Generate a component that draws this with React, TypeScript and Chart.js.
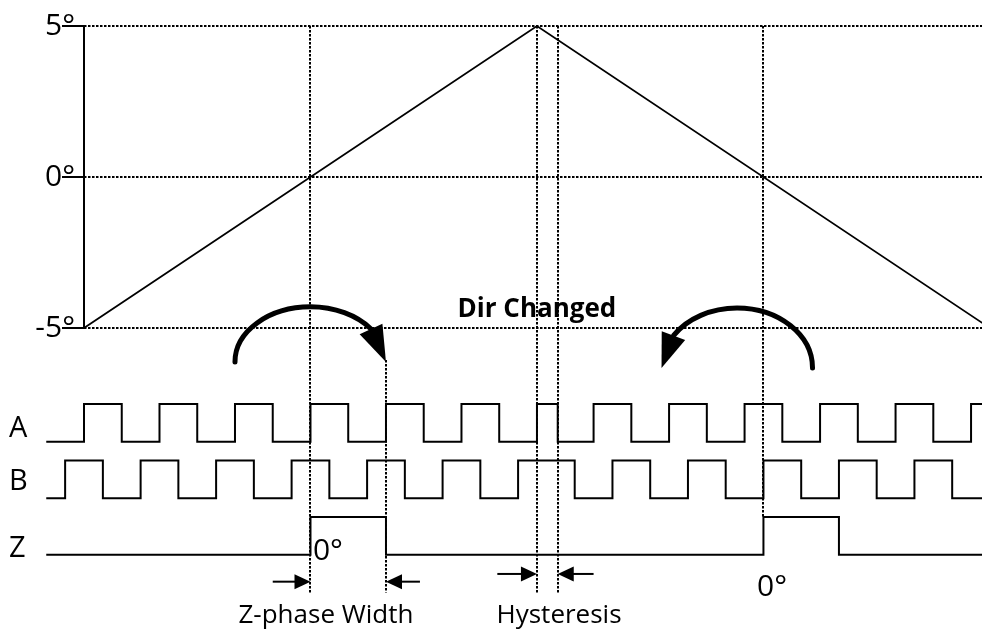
import React, { useEffect, useRef } from "react";
import { Chart, registerables } from "chart.js";

Chart.register(...registerables);

// ---------- data ----------
const angleTicks = [-5, 0, 5];
const angleTickLabels = ["-5°", "0°", "5°"];

// shaft angle (degrees) vs. time (in quarter-periods of the encoder signal)
const angleTime = [0, 24, 48];
const angleValue = [-5, 5, -5];

// encoder signal edges (time of each toggle, first toggle is a rising edge)
const signalNames = ["A", "B", "Z"];
const aEdges = [0, 2, 4, 6, 8, 10, 12, 14, 16, 18, 20, 22, 24, 25.1, 27, 29, 31, 33, 35, 37, 39, 41, 43, 45, 47];
const bEdges = [-1, 1, 3, 5, 7, 9, 11, 13, 15, 17, 19, 21, 23, 26, 28, 30, 32, 34, 36, 38, 40, 42, 44, 46];
const zEdges = [12, 16, 36, 40];
const traceStart = -2;
const traceEnd = 48;
// signal rows (row units, downward): high level / low level
const highRows = [0, 3, 6];
const lowRows = [2, 5, 8];

// dotted marker lines (times)
const markerTimes = [12, 16, 24, 25.1, 36];

// ---------- layout of annotations (not data) ----------
const X_MAX = 47.58;
const Y_MIN = -15.066;
const Y_MAX = 5.861;
const ROW_MIN = -21.43;
const ROW_MAX = 12.1;
const FONT = "'Open Sans', 'Noto Sans', sans-serif";
const DASH = [2.5, 1.5];

const markerSpecs = [
  { topDeg: 5, bottomRow: 10 },
  { topRow: -2.33, bottomRow: 10 },
  { topDeg: 5, bottomRow: 10 },
  { topDeg: 5, bottomRow: 10 },
  { topDeg: 5, bottomRow: 6 },
];

const arcSpecs = [
  { cx: 12, cy: -2.23, rx: 4, ry: 2.92, a: 0.64, cw: true },
  { cx: 34.6, cy: -1.91, rx: 4, ry: 3.18, a: 0.57, cw: false },
];

const dimArrows = [
  { tail: 10, tip: 12, row: 9.43 },
  { tail: 17.8, tip: 16, row: 9.43 },
  { tail: 21.9, tip: 24, row: 9.02 },
  { tail: 27, tip: 25.1, row: 9.02 },
];

const texts = [
  { s: "A", t: -3.97, row: 1.75, align: "left", font: `29px ${FONT}` },
  { s: "B", t: -3.97, row: 4.56, align: "left", font: `29px ${FONT}` },
  { s: "Z", t: -3.97, row: 8.12, align: "left", font: `29px ${FONT}` },
  { s: "Dir Changed", t: 24, row: -4.62, align: "center", font: `bold 26px ${FONT}` },
  { s: "0°", t: 12.13, row: 8.28, align: "left", font: `30px ${FONT}` },
  { s: "0°", t: 35.66, row: 10.19, align: "left", font: `30px ${FONT}` },
  { s: "Z-phase Width", t: 12.82, row: 11.62, align: "center", font: `26px ${FONT}` },
  { s: "Hysteresis", t: 25.17, row: 11.62, align: "center", font: `26px ${FONT}` },
];

function stepPoints(edges: number[], hi: number, lo: number) {
  const pts = [{ x: traceStart, y: lo }];
  edges.forEach((e, i) => pts.push({ x: e, y: i % 2 === 0 ? hi : lo }));
  pts.push({ x: traceEnd, y: edges.length % 2 === 1 ? hi : lo });
  return pts;
}

const annotationPlugin = {
  id: "annotations",
  afterDatasetsDraw(chart: any) {
    const { ctx, scales } = chart;
    const x = scales.x, y = scales.y, r = scales.y2;
    const px = (t: number) => x.getPixelForValue(t);
    const pd = (v: number) => y.getPixelForValue(v);
    const pr = (v: number) => r.getPixelForValue(v);
    ctx.save();
    ctx.strokeStyle = "#000";
    ctx.fillStyle = "#000";

    // dotted markers
    ctx.lineWidth = 2;
    ctx.setLineDash(DASH);
    markerSpecs.forEach((m: any, i: number) => {
      const X = Math.round(px(markerTimes[i]));
      const top = m.topDeg !== undefined ? pd(m.topDeg) : pr(m.topRow);
      ctx.beginPath();
      ctx.moveTo(X, top);
      ctx.lineTo(X, pr(m.bottomRow));
      ctx.stroke();
    });
    ctx.setLineDash([]);

    // curved direction arrows
    arcSpecs.forEach((a) => {
      const cx = px(a.cx), cy = pr(a.cy);
      const rx = px(a.cx + a.rx) - cx;
      const ry = cy - pr(a.cy - a.ry);
      ctx.lineWidth = 5;
      ctx.lineCap = "round";
      ctx.beginPath();
      let base, tip;
      if (a.cw) {
        ctx.ellipse(cx, cy, rx, ry, 0, Math.PI, 2 * Math.PI - a.a, false);
        base = { x: cx + rx * Math.cos(a.a), y: cy - ry * Math.sin(a.a) };
        tip = { x: cx + rx, y: cy };
      } else {
        ctx.ellipse(cx, cy, rx, ry, 0, 0, Math.PI + a.a, true);
        base = { x: cx - rx * Math.cos(a.a), y: cy - ry * Math.sin(a.a) };
        tip = { x: cx - rx, y: cy };
      }
      ctx.stroke();
      const dx = tip.x - base.x, dy = tip.y - base.y;
      const len = Math.hypot(dx, dy);
      const nx = -dy / len, ny = dx / len;
      const hw = 12.5;
      ctx.beginPath();
      ctx.moveTo(tip.x, tip.y);
      ctx.lineTo(base.x + nx * hw, base.y + ny * hw);
      ctx.lineTo(base.x - nx * hw, base.y - ny * hw);
      ctx.closePath();
      ctx.fill();
    });

    // dimension arrows
    ctx.lineCap = "butt";
    dimArrows.forEach((d) => {
      const Y = pr(d.row);
      const t0 = px(d.tail), t1 = px(d.tip);
      const dir = Math.sign(t1 - t0);
      ctx.lineWidth = 2;
      ctx.beginPath();
      ctx.moveTo(t0, Y);
      ctx.lineTo(t1 - dir * 8, Y);
      ctx.stroke();
      ctx.beginPath();
      ctx.moveTo(t1, Y);
      ctx.lineTo(t1 - dir * 16, Y - 7.5);
      ctx.lineTo(t1 - dir * 16, Y + 7.5);
      ctx.closePath();
      ctx.fill();
    });

    // texts
    ctx.textBaseline = "alphabetic";
    texts.forEach((tx: any) => {
      ctx.font = tx.font;
      ctx.textAlign = tx.align;
      ctx.fillText(tx.s, px(tx.t), pr(tx.row));
    });
    ctx.restore();
  },
};

export default function App() {
  const ref = useRef<HTMLCanvasElement>(null);
  useEffect(() => {
    if (!ref.current) return;
    Chart.defaults.font.family = FONT;
    const signalEdges = [aEdges, bEdges, zEdges];
    const chart = new Chart(ref.current, {
      type: "line",
      data: {
        datasets: [
          {
            label: "angle",
            data: angleTime.map((t, i) => ({ x: t, y: angleValue[i] })),
            yAxisID: "y",
            borderColor: "#000",
            borderWidth: 1.8,
            pointRadius: 0,
          },
          {
            label: "axis",
            data: [{ x: 0, y: angleTicks[0] }, { x: 0, y: angleTicks[angleTicks.length - 1] }],
            yAxisID: "y",
            borderColor: "#000",
            borderWidth: 2,
            pointRadius: 0,
          },
          ...signalNames.map((name, i) => ({
            label: name,
            data: stepPoints(signalEdges[i], highRows[i], lowRows[i]),
            yAxisID: "y2",
            borderColor: "#000",
            borderWidth: 2,
            pointRadius: 0,
            stepped: true,
            clip: { left: 45, right: 0, top: 0, bottom: 0 },
          })),
        ] as any,
      },
      options: {
        responsive: false,
        animation: false,
        layout: { padding: 0 },
        plugins: { legend: { display: false }, tooltip: { enabled: false } },
        scales: {
          x: {
            type: "linear",
            display: false,
            bounds: "data",
            afterDataLimits: (s: any) => {
              s.min = 0;
              s.max = X_MAX;
            },
          },
          y: {
            type: "linear",
            position: "left",
            min: Y_MIN,
            max: Y_MAX,
            afterBuildTicks: (s: any) => {
              s.ticks = angleTicks.map((v) => ({ value: v }));
            },
            afterFit: (s: any) => {
              s.width = 84;
              s.paddingTop = 0;
              s.paddingBottom = 0;
            },
            ticks: {
              callback: (v: any) => angleTickLabels[angleTicks.indexOf(Number(v))] ?? "",
              font: { size: 30, family: FONT },
              color: "#000",
              padding: -13,
            },
            grid: {
              color: "#000",
              lineWidth: 2,
              tickLength: 22,
              tickWidth: 2,
              tickColor: "#000",
              tickBorderDash: [],
            },
            border: { display: false, dash: DASH },
          },
          y2: { type: "linear", min: ROW_MIN, max: ROW_MAX, reverse: true, display: false },
        },
      } as any,
      plugins: [annotationPlugin],
    });
    return () => chart.destroy();
  }, []);
  return (
    <div style={{ position: "absolute", left: 0, top: 0, width: 982, height: 632, background: "#fff" }}>
      <canvas ref={ref} width={982} height={632} style={{ display: "block" }} />
    </div>
  );
}
